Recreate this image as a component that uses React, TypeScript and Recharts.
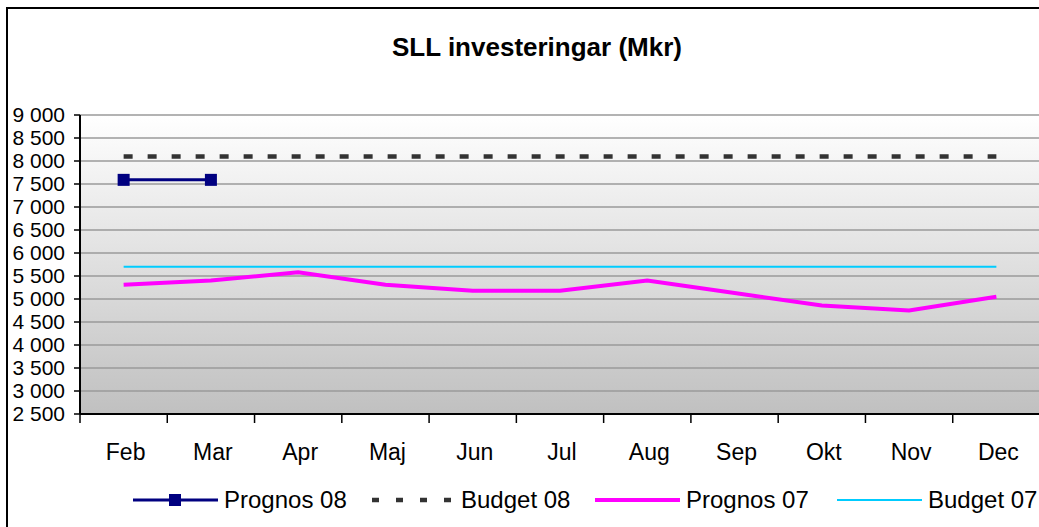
import { LineChart, Line, XAxis, YAxis, CartesianGrid, Legend } from 'recharts';

const months = ['Feb', 'Mar', 'Apr', 'Maj', 'Jun', 'Jul', 'Aug', 'Sep', 'Okt', 'Nov', 'Dec'];
const prognos08 = [7590, 7590, null, null, null, null, null, null, null, null, null];
const budget08 = [8100, 8100, 8100, 8100, 8100, 8100, 8100, 8100, 8100, 8100, 8100];
const prognos07 = [5310, 5400, 5580, 5310, 5180, 5180, 5400, 5130, 4860, 4750, 5050];
const budget07 = [5700, 5700, 5700, 5700, 5700, 5700, 5700, 5700, 5700, 5700, 5700];
const yTicks = [2500, 3000, 3500, 4000, 4500, 5000, 5500, 6000, 6500, 7000, 7500, 8000, 8500, 9000];

const data = months.map((m, i) => ({
  month: m,
  prognos08: prognos08[i],
  budget08: budget08[i],
  prognos07: prognos07[i],
  budget07: budget07[i],
}));

const FONT = '"Liberation Sans", Arial, sans-serif';
const HALF_BAND = 960 / 11 / 2;

function fmt(n: number): string {
  const s = String(n);
  return s.length > 3 ? `${s.slice(0, -3)} ${s.slice(-3)}` : s;
}

function MonthTick({ x, y, payload }: any) {
  return (
    <g>
      <line x1={x - HALF_BAND} x2={x - HALF_BAND} y1={y - 9} y2={y} stroke="#000" strokeWidth={1.5} />
      <text x={x + 2} y={y + 37} textAnchor="middle" fontSize={23} fontFamily={FONT} fill="#000">
        {payload.value}
      </text>
    </g>
  );
}

function SquareDot({ cx, cy, index }: any) {
  if (cy == null || cx == null) return <g key={`d${index}`} />;
  return <rect key={`d${index}`} x={cx - 6} y={cy - 6} width={12} height={12} fill="#000080" />;
}

const legendItems = [
  { label: 'Prognos 08', kind: 'marker', left: 133 },
  { label: 'Budget 08', kind: 'dash', left: 370 },
  { label: 'Prognos 07', kind: 'magenta', left: 595 },
  { label: 'Budget 07', kind: 'cyan', left: 837 },
];

function LegendIcon({ kind }: { kind: string }) {
  return (
    <svg width={85} height={20} style={{ display: 'block' }}>
      {kind === 'marker' && (
        <>
          <line x1={0} x2={85} y1={10} y2={10} stroke="#000080" strokeWidth={3} />
          <rect x={36} y={4} width={12} height={12} fill="#000080" />
        </>
      )}
      {kind === 'dash' && (
        <line x1={2} x2={85} y1={10} y2={10} stroke="#333" strokeWidth={4.5} strokeDasharray="7 17" />
      )}
      {kind === 'magenta' && <line x1={0} x2={85} y1={10} y2={10} stroke="#FF00FF" strokeWidth={4} />}
      {kind === 'cyan' && <line x1={0} x2={85} y1={10} y2={10} stroke="#00CCFF" strokeWidth={2} />}
    </svg>
  );
}

function ChartLegend() {
  return (
    <div style={{ position: 'relative', height: 30 }}>
      {legendItems.map(it => (
        <div
          key={it.label}
          style={{ position: 'absolute', left: it.left, top: 0, display: 'flex', alignItems: 'center', gap: 6 }}
        >
          <LegendIcon kind={it.kind} />
          <span style={{ fontSize: 24, fontFamily: FONT, color: '#000', lineHeight: '30px', whiteSpace: 'nowrap' }}>
            {it.label}
          </span>
        </div>
      ))}
    </div>
  );
}

export default function App() {
  return (
    <div
      style={{
        position: 'absolute',
        left: 0,
        top: 0,
        width: 1039,
        height: 527,
        overflow: 'hidden',
        background: '#fff',
      }}
    >
      <div
        style={{
          position: 'absolute',
          left: 6,
          top: 7,
          width: 1100,
          height: 600,
          border: '2px solid #000',
        }}
      />
      <div
        style={{
          position: 'absolute',
          left: 0,
          top: 30,
          width: 1074,
          textAlign: 'center',
          fontFamily: FONT,
          fontWeight: 700,
          fontSize: 26,
          lineHeight: '34px',
          color: '#000',
        }}
      >
        SLL investeringar (Mkr)
      </div>
      <div style={{ position: 'absolute', left: 0, top: 0 }}>
        <LineChart width={1050} height={527} data={data} margin={{ top: 115, right: 10, left: 0, bottom: 63 }}>
          <defs>
            <linearGradient id="plotBg" x1="0" y1="0" x2="0" y2="1">
              <stop offset="0%" stopColor="#FFFFFF" />
              <stop offset="100%" stopColor="#C0C0C0" />
            </linearGradient>
          </defs>
          <CartesianGrid vertical={false} stroke="#9A9A9A" strokeWidth={1.5} fill="url(#plotBg)" fillOpacity={1} />
          <XAxis
            dataKey="month"
            height={50}
            padding={{ left: HALF_BAND, right: HALF_BAND }}
            axisLine={{ stroke: '#000', strokeWidth: 2 }}
            tickLine={false}
            tickSize={9}
            tickMargin={0}
            tick={<MonthTick />}
            interval={0}
          />
          <YAxis
            domain={[2500, 9000]}
            ticks={yTicks}
            width={80}
            interval={0}
            axisLine={{ stroke: '#000', strokeWidth: 2 }}
            tickLine={{ stroke: '#000', strokeWidth: 1.5 }}
            tickSize={6}
            tickMargin={9}
            tickFormatter={fmt}
            tick={{ fontSize: 21, fill: '#000', fontFamily: FONT }}
          />
          <Legend
            layout="horizontal"
            verticalAlign="middle"
            align="center"
            content={() => <ChartLegend />}
            wrapperStyle={{ top: 485, left: 0, width: 1039, height: 30 }}
          />
          <Line
            dataKey="budget07"
            name="Budget 07"
            type="linear"
            stroke="#00CCFF"
            strokeWidth={2}
            dot={false}
            isAnimationActive={false}
          />
          <Line
            dataKey="prognos07"
            name="Prognos 07"
            type="linear"
            stroke="#FF00FF"
            strokeWidth={4}
            dot={false}
            isAnimationActive={false}
          />
          <Line
            dataKey="budget08"
            name="Budget 08"
            type="linear"
            stroke="#333333"
            strokeWidth={4.5}
            strokeDasharray="9 15"
            dot={false}
            isAnimationActive={false}
          />
          <Line
            dataKey="prognos08"
            name="Prognos 08"
            type="linear"
            stroke="#000080"
            strokeWidth={3}
            dot={<SquareDot />}
            isAnimationActive={false}
          />
        </LineChart>
      </div>
    </div>
  );
}
